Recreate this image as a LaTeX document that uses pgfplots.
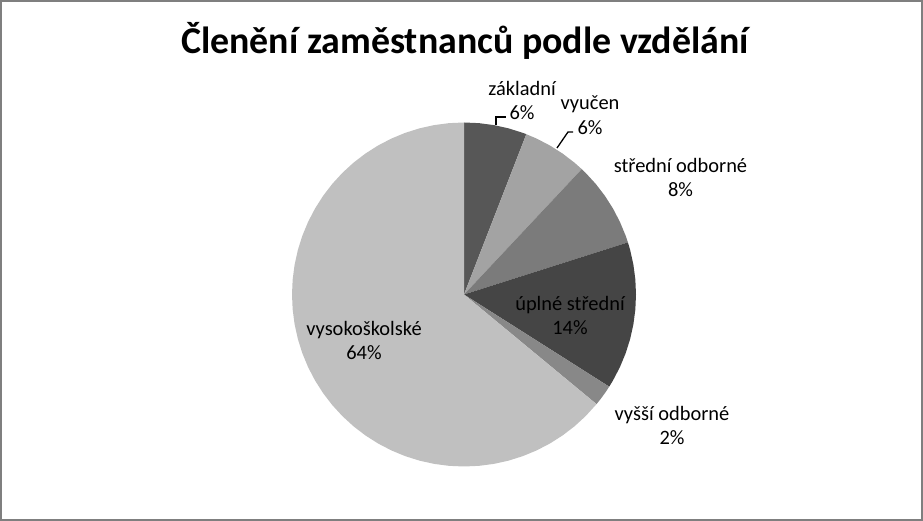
\documentclass[border=0pt]{standalone}
\usepackage{pgfplots}
\pgfplotsset{compat=1.18}
\usepackage{fontspec}
\setmainfont{Carlito}
\definecolor{cZakl}{HTML}{575757}
\definecolor{cVyuc}{HTML}{A3A3A3}
\definecolor{cStrO}{HTML}{7B7B7B}
\definecolor{cUpl}{HTML}{454545}
\definecolor{cVyssi}{HTML}{888888}
\definecolor{cVys}{HTML}{C0C0C0}
\definecolor{frame}{HTML}{7F7F7F}
\tikzset{lbl/.style={font=\fontsize{20.5}{25}\selectfont, align=center, inner sep=0pt}}

\begin{document}
\begin{tikzpicture}
\begin{axis}[
    width=923bp, height=521bp, scale only axis,
    xmin=-464, xmax=459, ymin=-226.5, ymax=294.5,
    hide axis, clip=false,
]
% shares (%): 5.9, 6.1, 8.1, 13.9, 2.0, 64.0 -- clockwise from 12 o'clock
% polar data: (angle, radius), radius = 172
\addplot[draw=none, fill=cZakl, data cs=polar] coordinates {
    (0,0) (90,172) (85,172) (80,172) (75,172) (70,172) (68.76,172) (0,0)};
\addplot[draw=none, fill=cVyuc, data cs=polar] coordinates {
    (0,0) (68.76,172) (65,172) (60,172) (55,172) (50,172) (46.8,172) (0,0)};
\addplot[draw=none, fill=cStrO, data cs=polar] coordinates {
    (0,0) (46.8,172) (45,172) (40,172) (35,172) (30,172) (25,172) (20,172) (17.64,172) (0,0)};
\addplot[draw=none, fill=cUpl, data cs=polar] coordinates {
    (0,0) (17.64,172) (15,172) (10,172) (5,172) (0,172) (-5,172) (-10,172)
    (-15,172) (-20,172) (-25,172) (-30,172) (-32.4,172) (0,0)};
\addplot[draw=none, fill=cVyssi, data cs=polar] coordinates {
    (0,0) (-32.4,172) (-35,172) (-37.5,172) (-39.6,172) (0,0)};
\addplot[draw=none, fill=cVys, data cs=polar] coordinates {
    (0,0) (-39.6,172) (-45,172) (-50,172) (-55,172) (-60,172) (-65,172)
    (-70,172) (-75,172) (-80,172) (-85,172) (-90,172) (-95,172) (-100,172)
    (-105,172) (-110,172) (-115,172) (-120,172) (-125,172) (-130,172)
    (-135,172) (-140,172) (-145,172) (-150,172) (-155,172) (-160,172)
    (-165,172) (-170,172) (-175,172) (-180,172) (-185,172) (-190,172)
    (-195,172) (-200,172) (-205,172) (-210,172) (-215,172) (-220,172)
    (-225,172) (-230,172) (-235,172) (-240,172) (-245,172) (-250,172)
    (-255,172) (-260,172) (-265,172) (-270,172) (0,0)};

% leader lines
\addplot[black, line width=1.3bp, mark=none] coordinates {(32,169) (32,177.5) (42,177.5)};
\addplot[black, line width=1.3bp, mark=none] coordinates {(93,146.5) (104,162.5) (109,162.5)};

% title
\node[font=\fontsize{38}{44}\selectfont\bfseries] at (axis cs:1,254) {Členění zaměstnanců podle vzdělání};

% data labels
\node[lbl] at (axis cs:58,194) {základní\\6\%};
\node[lbl] at (axis cs:126,179) {vyučen\\6\%};
\node[lbl] at (axis cs:216.5,117) {střední odborné\\8\%};
\node[lbl] at (axis cs:106,-21) {úplné střední\\14\%};
\node[lbl] at (axis cs:208,-131) {vyšší odborné\\2\%};
\node[lbl] at (axis cs:-100,-46) {vysokoškolské\\64\%};

\draw[frame, line width=2bp]
    ([shift={(1bp,1bp)}]rel axis cs:0,0) rectangle ([shift={(-1bp,-1bp)}]rel axis cs:1,1);
\end{axis}
\end{tikzpicture}
\end{document}
